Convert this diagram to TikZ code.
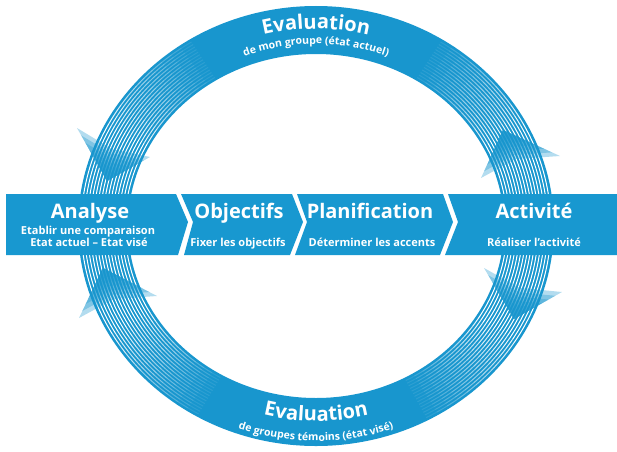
\documentclass[tikz,border=0pt]{standalone}
\usepackage{fontspec}
\setmainfont{Open Sans}
\usetikzlibrary{decorations.text}
\definecolor{ringblue}{RGB}{24,150,206}
\definecolor{barblue}{RGB}{24,152,208}
\tikzset{
  block/.style={fill=barblue},
  title/.style={anchor=base, text=white, font=\bfseries\fontsize{20}{20}\selectfont, inner sep=0pt},
  sub/.style={anchor=base, text=white, font=\bfseries\fontsize{11}{11}\selectfont, inner sep=0pt},
  stripe/.style={white, line width=1pt},
  ahead/.style={fill=ringblue, fill opacity=0.33},
}
\newcommand\stripeseg[3]{%
  \foreach \k in {1,...,15}{%
    \pgfmathsetmacro\rx{188+50*\k/16}%
    \pgfmathsetmacro\ry{172+48*\k/16}%
    \draw[stripe, draw opacity=#3] ({316+\rx*cos(#1)},{225+\ry*sin(#1)}) arc[start angle=#1, end angle=#2, x radius=\rx, y radius=\ry];
  }}
\newcommand\stripefade[3]{%
  \stripeseg{#1}{#2}{1}%
  \foreach \i in {1,...,10}{%
    \pgfmathsetmacro\ta{#2+#3*3*(\i-1)}%
    \pgfmathsetmacro\tb{#2+#3*3*\i}%
    \pgfmathsetmacro\op{1-\i/11}%
    \stripeseg{\ta}{\tb}{\op}%
  }}
\newcommand\arrowhd[4]{%
  \foreach \s in {1,0.86,0.72,0.58,0.44,0.3}{%
    \fill[ahead, scale around={\s:#1}] #1 -- #2 -- #3 -- #4 -- cycle;
  }}
\begin{document}
\begin{tikzpicture}[x=1pt,y=1pt]
\useasboundingbox (0,0) rectangle (617,451);
% ring
\fill[ringblue, even odd rule] (316,225) ellipse[x radius=238, y radius=220]
  (316,225) ellipse[x radius=188, y radius=172];
% stripes near the bar
\stripefade{176}{152}{-1}
\stripefade{4}{28}{1}
\stripefade{184}{210}{1}
\stripefade{356}{328}{-1}
% arrowheads
\arrowhd{(107,270)}{(77,323)}{(112,302)}{(150,294)}
\arrowhd{(503,321)}{(481,273)}{(516,292)}{(560,295)}
\arrowhd{(103,183)}{(79,133)}{(114,152)}{(157,155)}
\arrowhd{(514,132)}{(484,183)}{(520,163)}{(562,159)}
% bar
\fill[block] (6,257) -- (176,257) -- (188,229) -- (178,196) -- (6,196) -- cycle;
\fill[block] (181,257) -- (292,257) -- (303,229) -- (290,196) -- (184,196) -- (193,229) -- cycle;
\fill[block] (297,257) -- (443,257) -- (453,229) -- (440,196) -- (295,196) -- (307,229) -- cycle;
\fill[block] (448,257) -- (617,257) -- (617,196) -- (445,196) -- (458,229) -- cycle;
% bar texts
\node[title] (analyse) at (90,232.5) {Analyse};
\node[sub] (analyse1) at (88,217) {Etablir une comparaison};
\node[sub] (analyse2) at (89,205) {Etat actuel – Etat visé};
\node[title] (objectifs) at (239,232.5) {Objectifs};
\node[sub] (objectifs1) at (238,205) {Fixer les objectifs};
\node[title] (planif) at (370,232.5) {Planification};
\node[sub] (planif1) at (372,205) {Déterminer les accents};
\node[title] (activite) at (534,232.5) {Activité};
\node[sub] (activite1) at (534,205) {Réaliser l’activité};
% ring texts
\path[decorate, decoration={text along path, text align=center, text color=white,
  text={|\bfseries\fontsize{20}{20}\selectfont|Evaluation}}]
  ({316+214*cos(140)},{225+197*sin(140)}) arc[start angle=140, end angle=40, x radius=214, y radius=197];
\path[decorate, decoration={text along path, text align=center, text color=white,
  text={|\bfseries\fontsize{10.5}{10.5}\selectfont|de mon groupe (état actuel)}}]
  ({316+198*cos(150)},{225+182*sin(150)}) arc[start angle=150, end angle=30, x radius=198, y radius=182];
\path[decorate, decoration={text along path, text align=center, text color=white,
  text={|\bfseries\fontsize{20}{20}\selectfont|Evaluation}}]
  ({316+212*cos(220)},{225+195*sin(220)}) arc[start angle=220, end angle=320, x radius=212, y radius=195];
\path[decorate, decoration={text along path, text align=center, text color=white,
  text={|\bfseries\fontsize{10.5}{10.5}\selectfont|de groupes témoins (état visé)}}]
  ({316+233*cos(215)},{225+215*sin(215)}) arc[start angle=215, end angle=325, x radius=233, y radius=215];
\end{tikzpicture}
\end{document}
